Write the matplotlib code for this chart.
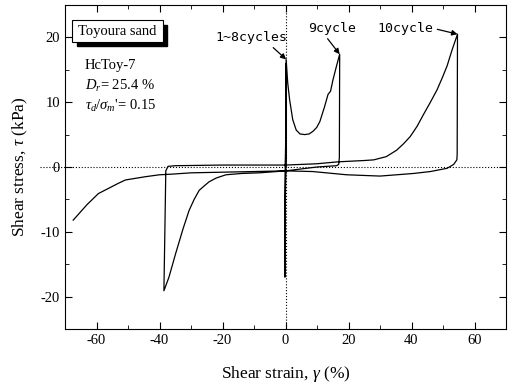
import numpy as np
import matplotlib
matplotlib.use("Agg")
from matplotlib import pyplot as plt
from matplotlib.patches import Rectangle
from matplotlib.ticker import MultipleLocator

# cycles 1-8: nearly zero strain, stress swinging +/- 16 kPa
strain_c1_8 = [0.0, 0.15, -0.15, 0.2, -0.2, 0.2]
stress_c1_8 = [0.0, 15.5, -16.5, 16.0, -17.0, 16.6]

# cycle 9 loading branch
strain_c9_load = [0.7, 1.3, 2.3, 3.4, 4.6, 6.1, 7.5, 8.7, 9.9, 10.9, 12.4, 13.5,
                  14.3, 15.1, 16.2, 17.2]
stress_c9_load = [13.0, 10.4, 7.3, 5.7, 5.1, 5.0, 5.1, 5.5, 6.1, 7.0, 9.3, 11.2,
                  11.7, 13.5, 15.6, 17.4]

# cycle 9 unloading -> negative side
strain_c9_unload = [17.1, 16.9, 16.2, 10.0, 5.0, 0.0, -8.3, -14.0, -18.9, -22.0, -24.3,
                    -26.0, -27.4, -29.0, -30.6, -32.5, -34.9, -37.0, -38.6]
stress_c9_unload = [1.5, 0.4, 0.2, 0.0, -0.3, -0.6, -0.9, -1.0, -1.2, -1.7, -2.3,
                    -3.0, -3.6, -5.0, -6.7, -9.5, -13.4, -17.0, -19.1]

# cycle 10 reloading branch
strain_c10_load = [-38.3, -38.0, -37.3, -35.0, -20.0, 0.0, 10.0, 16.7, 25.0, 28.0,
                   32.0, 35.3, 37.5, 39.6, 41.8, 43.8, 46.0, 48.1, 49.8, 51.3,
                   52.9, 54.6]
stress_c10_load = [-10.0, -0.6, 0.1, 0.2, 0.3, 0.3, 0.5, 0.8, 1.0, 1.1,
                   1.6, 2.6, 3.6, 4.7, 6.3, 8.1, 10.0, 11.9, 13.8, 15.6,
                   18.1, 20.5]

# cycle 10 unloading branch
strain_c10_unload = [54.5, 54.4, 53.4, 51.3, 46.0, 40.6, 30.0, 19.4, 8.6, 0.0, -10.0,
                     -20.0, -30.0, -36.0, -40.0, -44.5, -50.8, -53.0, -59.4, -63.0, -67.4]
stress_c10_unload = [2.0, 1.1, 0.4, -0.2, -0.7, -1.0, -1.4, -1.2, -0.7, -0.6, -0.7,
                     -0.8, -0.9, -1.1, -1.2, -1.5, -2.0, -2.5, -4.1, -5.8, -8.2]

strain = np.concatenate([strain_c1_8, strain_c9_load, strain_c9_unload,
                         strain_c10_load, strain_c10_unload])
stress = np.concatenate([stress_c1_8, stress_c9_load, stress_c9_unload,
                         stress_c10_load, stress_c10_unload])

x_ticks = [-60, -40, -20, 0, 20, 40, 60]
y_ticks = [-20, -10, 0, 10, 20]

plt.rcParams["font.family"] = ["Liberation Serif", "DejaVu Serif"]
plt.rcParams["mathtext.fontset"] = "custom"
plt.rcParams["mathtext.rm"] = "Liberation Serif"
plt.rcParams["mathtext.it"] = "Liberation Serif:italic"
plt.rcParams["axes.unicode_minus"] = False

fig = plt.figure(figsize=(5.09, 3.86), dpi=100)
ax = fig.add_axes([65 / 509, 1 - 329 / 386, 441 / 509, 324 / 386])

ax.plot([-78, 70], [0, 0], ":", color="k", lw=0.8, clip_on=False)
ax.plot([0, 0], [-25, 25], ":", color="k", lw=0.8)
ax.plot(strain, stress, "-", color="k", lw=0.9)

ax.set_xlim(-70, 70)
ax.set_ylim(-25, 25)
ax.set_xticks(x_ticks)
ax.set_yticks(y_ticks)
ax.xaxis.set_minor_locator(MultipleLocator(10))
ax.yaxis.set_minor_locator(MultipleLocator(5))
ax.tick_params(which="both", direction="in", top=True, right=True, labelsize=10.5)
ax.tick_params(which="major", length=5)
ax.tick_params(which="minor", length=3)

ax.set_xlabel(r"Shear strain, $\gamma$ (%)", fontsize=12.5, labelpad=12)
ax.set_ylabel(r"Shear stress, $\tau$ (kPa)", fontsize=12.5, labelpad=8)

# label box with drop shadow
ax.add_patch(Rectangle((12 / 441, (329 - 46) / 324), 90 / 441, 21 / 324,
                       transform=ax.transAxes, facecolor="k", edgecolor="k", zorder=3))
ax.add_patch(Rectangle((7 / 441, (329 - 42) / 324), 91 / 441, 22 / 324,
                       transform=ax.transAxes, facecolor="w", edgecolor="k", lw=0.8, zorder=4))
ax.text(52.5 / 441, (329 - 31) / 324, "Toyoura sand", transform=ax.transAxes,
        ha="center", va="center", fontsize=10.5, zorder=5)

ax.text(0.045, 0.812, "HcToy-7", transform=ax.transAxes, fontsize=10.5, va="center")
ax.text(0.045, 0.75, r"$D_r$= 25.4 %", transform=ax.transAxes, fontsize=10.5, va="center")
ax.text(0.045, 0.688, r"$\tau_d/\sigma_m$'= 0.15", transform=ax.transAxes, fontsize=10.5,
        va="center")

mono = dict(family="DejaVu Sans Mono", fontsize=9.5)
arrow = dict(arrowstyle="-|>", color="k", lw=0.9, mutation_scale=8, shrinkA=1, shrinkB=0)
ax.annotate("1~8cycles", xy=(0.2, 16.6), xytext=(-10.9, 20.0), ha="center", va="center",
            arrowprops=dict(arrow, relpos=(0.75, 0.0)), **mono)
ax.annotate("9cycle", xy=(17.2, 17.4), xytext=(14.7, 21.4), ha="center", va="center",
            arrowprops=dict(arrow, relpos=(0.35, 0.0)), **mono)
ax.annotate("10cycle", xy=(54.6, 20.5), xytext=(38.0, 21.4), ha="center", va="center",
            arrowprops=dict(arrow, relpos=(1.0, 0.5)), **mono)

fig.savefig("out.png", dpi=100)
